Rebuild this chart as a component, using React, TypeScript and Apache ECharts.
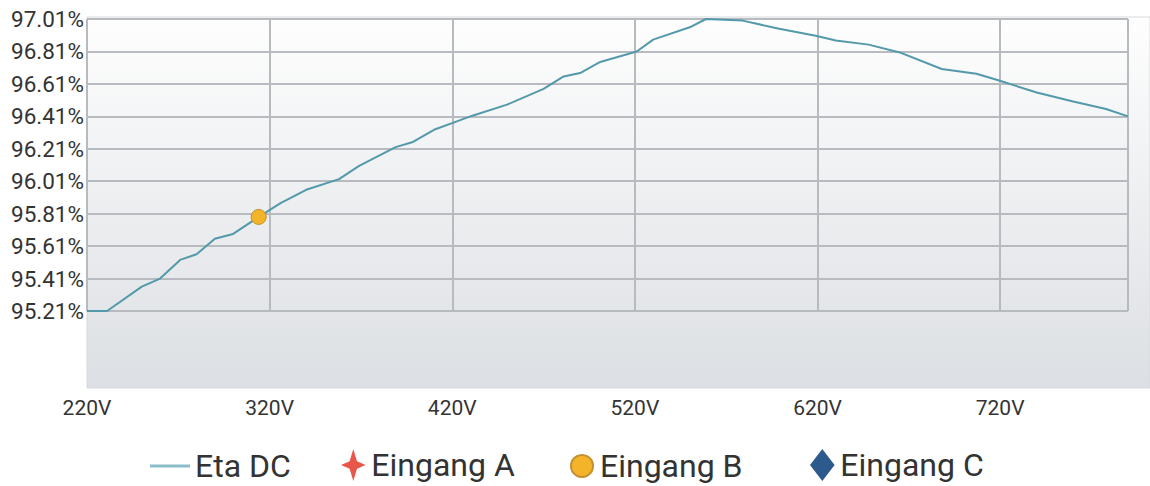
import React, { useEffect, useRef } from "react";
import * as echarts from "echarts";

const volts = [220, 231, 250, 260, 271, 280, 290, 300, 314, 326, 340, 358, 369, 389, 398, 410, 424, 431, 450, 470, 481, 490, 501, 521, 530, 550, 559, 579, 599, 619, 630, 648, 665, 688, 707, 719, 740, 760, 778, 790];
const etaDc = [95.21, 95.21, 95.36, 95.41, 95.525, 95.56, 95.655, 95.685, 95.79, 95.875, 95.957, 96.023, 96.105, 96.22, 96.25, 96.327, 96.385, 96.414, 96.482, 96.579, 96.656, 96.677, 96.745, 96.81, 96.883, 96.959, 97.01, 97.0, 96.95, 96.907, 96.878, 96.852, 96.804, 96.702, 96.673, 96.632, 96.557, 96.502, 96.455, 96.41];
const eingangA: number[][] = [];
const eingangB = [[314, 95.79]];
const eingangC: number[][] = [];
const seriesNames = ["Eta DC", "Eingang A", "Eingang B", "Eingang C"];
const xMin = 220;
const xMax = 790;
const xStep = 100;
const yMin = 95.21;
const yMax = 97.01;
const yStep = 0.2;

const FONT = "Roboto, 'Liberation Sans', sans-serif";
const LINE_ICON = "path://M0,0 L40,0 L40,3 L0,3 Z";
const STAR = "path://M0,-13 L3,-3 L10,0 L3,3 L0,13 L-3,3 L-10,0 L-3,-3 Z";
const DIAMOND = "path://M0,-13 L10,0 L0,13 L-10,0 Z";

export default function App() {
  const ref = useRef<HTMLDivElement>(null);
  useEffect(() => {
    if (!ref.current) return;
    const chart = echarts.init(ref.current, null, { renderer: "svg" });
    const gridLine = { show: true, lineStyle: { color: "#b7babe", width: 2 } };
    const legendBase = {
      top: 450,
      padding: 0,
      itemHeight: 22,
      textStyle: { fontSize: 32, lineHeight: 30, color: "#333", fontFamily: FONT },
      selectedMode: false,
    };
    chart.setOption({
      animation: false,
      backgroundColor: "#ffffff",
      graphic: [
        {
          type: "rect",
          z: -10,
          shape: { x: 87, y: 17, width: 1063, height: 371 },
          style: {
            fill: new echarts.graphic.LinearGradient(0, 0, 0, 1, [
              { offset: 0, color: "#fefefe" },
              { offset: 1, color: "#dcdfe3" },
            ]),
            stroke: "#d6d9dc",
            lineWidth: 1,
          },
        },
      ],
      grid: { left: 87, top: 19, right: 22, bottom: 175, containLabel: false },
      xAxis: {
        type: "value",
        min: xMin,
        max: xMax,
        interval: xStep,
        axisLine: { show: false },
        axisTick: { show: false },
        splitLine: gridLine,
        axisLabel: {
          margin: 86,
          showMaxLabel: false,
          formatter: (v: number) => `${v}V`,
          fontSize: 21,
          color: "#333",
          fontFamily: FONT,
        },
      },
      yAxis: {
        type: "value",
        min: yMin,
        max: yMax,
        interval: yStep,
        axisLine: { show: false },
        axisTick: { show: false },
        splitLine: gridLine,
        axisLabel: {
          margin: 3,
          formatter: (v: number) => `${v.toFixed(2)}%`,
          fontSize: 22.5,
          color: "#333",
          fontFamily: FONT,
        },
      },
      legend: [
        {
          ...legendBase,
          left: 150,
          itemWidth: 40,
          data: [{ name: seriesNames[0], icon: LINE_ICON, itemStyle: { color: "#8bbdc9" } }],
        },
        {
          ...legendBase,
          left: 341,
          itemWidth: 26,
          itemHeight: 32,
          top: 449,
          data: [{ name: seriesNames[1], icon: STAR }],
        },
        { ...legendBase, left: 570, itemWidth: 26, data: [{ name: seriesNames[2], icon: "circle" }] },
        {
          ...legendBase,
          left: 810,
          itemWidth: 26,
          itemHeight: 32,
          top: 449,
          data: [{ name: seriesNames[3], icon: DIAMOND }],
        },
      ],
      series: [
        {
          name: seriesNames[0],
          type: "line",
          data: volts.map((v, i) => [v, etaDc[i]]),
          symbol: "none",
          showSymbol: false,
          lineStyle: { color: "#5399aa", width: 2 },
          itemStyle: { color: "#8bbdc9" },
          clip: false,
          z: 3,
        },
        {
          name: seriesNames[1],
          type: "scatter",
          data: eingangA,
          symbol: STAR,
          symbolSize: 22,
          itemStyle: { color: "#e8574a", opacity: 1 },
        },
        {
          name: seriesNames[2],
          type: "scatter",
          data: eingangB,
          symbol: "circle",
          symbolSize: 15,
          itemStyle: { color: "#f3b42a", borderColor: "#c38f33", borderWidth: 1, opacity: 1 },
          z: 4,
        },
        {
          name: seriesNames[3],
          type: "scatter",
          data: eingangC,
          symbol: DIAMOND,
          symbolSize: 22,
          itemStyle: { color: "#2d5a8c", opacity: 1 },
        },
      ],
    });
    return () => chart.dispose();
  }, []);
  return (
    <div
      ref={ref}
      style={{ position: "fixed", left: 0, top: 0, width: 1150, height: 486 }}
    />
  );
}
